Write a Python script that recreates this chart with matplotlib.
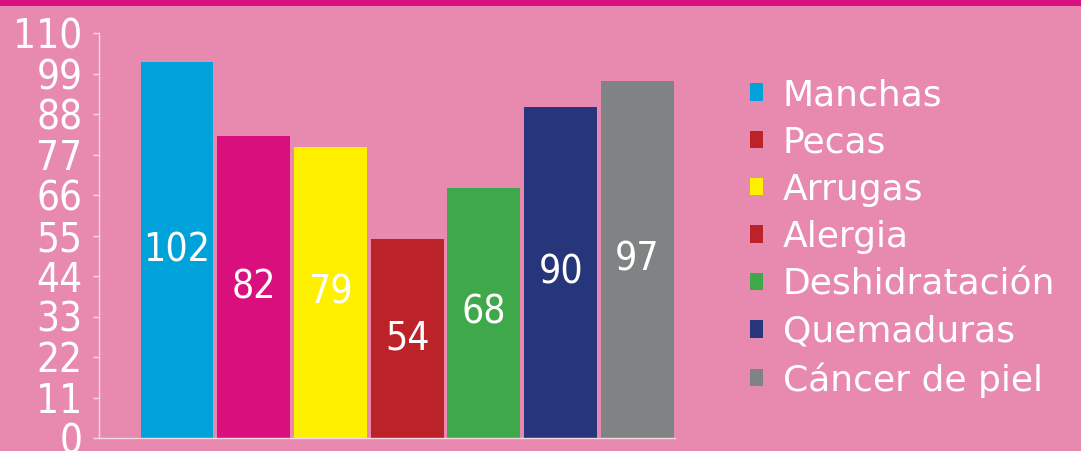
import matplotlib
matplotlib.use("Agg")
import matplotlib.pyplot as plt
from matplotlib.patches import Patch, Rectangle

categories = ["Manchas", "Pecas", "Arrugas", "Alergia", "Deshidratación", "Quemaduras", "Cáncer de piel"]
values = [102, 82, 79, 54, 68, 90, 97]
bar_colors = ["#00A3D9", "#D90F7D", "#FFF000", "#BC2329", "#3EA84A", "#27367A", "#808383"]
legend_colors = ["#00A3D9", "#BC2329", "#FFF000", "#BC2329", "#3EA84A", "#27367A", "#808383"]
yticks = [0, 11, 22, 33, 44, 55, 66, 77, 88, 99, 110]

bg = "#E889AF"
W, H = 1081, 451
fig = plt.figure(figsize=(W / 100, H / 100), dpi=100, facecolor=bg)
fig.patches.append(Rectangle((0, 1 - 6 / H), 1, 6 / H, transform=fig.transFigure,
                             facecolor="#D90F7D", edgecolor="none"))

ax = fig.add_axes([99 / W, 13 / H, (675 - 99) / W, 405 / H])
ax.set_facecolor(bg)
x = list(range(len(values)))
ax.bar(x, values, width=0.95, color=bar_colors)
ax.set_xlim(-1.016, 6.49)
ax.set_ylim(0, 110)

for xi, v in zip(x, values):
    ax.text(xi, v / 2, str(v), ha="center", va="center", color="white",
            fontsize=28, fontstretch="condensed")

ax.set_yticks(yticks)
ax.set_yticklabels([str(t) for t in yticks], fontsize=29, color="white", fontstretch="condensed")
ax.tick_params(axis="y", colors="#F6D8E4", length=4, width=1, pad=8, labelcolor="white")
ax.set_xticks([])
for s in ["top", "right"]:
    ax.spines[s].set_visible(False)
for s in ["left", "bottom"]:
    ax.spines[s].set_color("#F6D8E4")
    ax.spines[s].set_linewidth(1)

handles = [Patch(facecolor=c, edgecolor="none") for c in legend_colors]
leg = fig.legend(handles, categories, loc="upper left", bbox_to_anchor=(750 / W, 1 - 78 / H),
                 frameon=False, fontsize=26, labelcolor="white",
                 handlelength=0.36, handleheight=0.36, handletextpad=0.55,
                 labelspacing=0.37, borderaxespad=0, borderpad=0)

fig.savefig("out.png", dpi=100, facecolor=bg)
